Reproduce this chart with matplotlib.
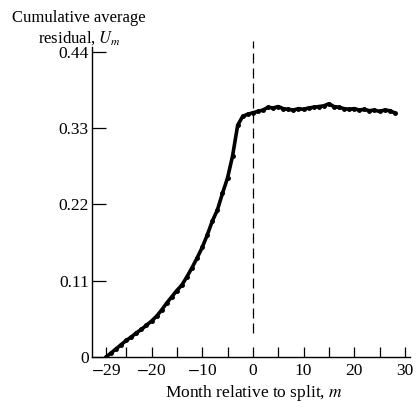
import numpy as np
import matplotlib
matplotlib.use("Agg")
import matplotlib.pyplot as plt

plt.rcParams['font.family'] = ['Liberation Serif', 'DejaVu Serif']
plt.rcParams['mathtext.fontset'] = 'stix'

# months relative to split and cumulative average residual
months = np.arange(-29, 29)
residual = [
    0.000, 0.006, 0.012, 0.018, 0.024, 0.029, 0.035, 0.040, 0.046, 0.052,
    0.059, 0.068, 0.078, 0.087, 0.096, 0.104, 0.116, 0.129, 0.143, 0.158,
    0.176, 0.196, 0.212, 0.236, 0.258, 0.290, 0.334, 0.347, 0.350, 0.352,
    0.354, 0.356, 0.360, 0.359, 0.361, 0.358, 0.357, 0.356, 0.358, 0.357,
    0.359, 0.360, 0.361, 0.362, 0.365, 0.361, 0.360, 0.358, 0.357, 0.358,
    0.356, 0.357, 0.355, 0.356, 0.354, 0.356, 0.355, 0.352,
]

x_ticks = [-29, -25, -20, -15, -10, -5, 0, 5, 10, 15, 20, 25, 30]
x_labels = ['$-$29', '', '$-$20', '', '$-$10', '', '0', '', '10', '', '20', '', '30']
y_ticks = [0, 0.11, 0.22, 0.33, 0.44]
y_labels = ['0', '0.11', '0.22', '0.33', '0.44']

fig = plt.figure(figsize=(4.17, 4.11), dpi=100)
ax = fig.add_axes([0.22, 0.131, 0.763, 0.755])

ax.plot(months, residual, color='black', lw=2.6, solid_capstyle='round')
ax.plot(months, residual, 'o', color='black', ms=2.5)

# event month
ax.plot([0, 0], [0.035, 0.455], color='black', lw=0.9, ls=(0, (8, 4)), clip_on=False)

ax.set_xlim(-31.8, 31.0)
ax.set_ylim(0, 0.447)
ax.set_xticks(x_ticks)
ax.set_xticklabels(x_labels, fontsize=12.5)
ax.set_yticks(y_ticks)
ax.set_yticklabels(y_labels, fontsize=12.5)
ax.tick_params(axis='x', direction='in', length=7, width=0.9, pad=4)
ax.tick_params(axis='y', direction='in', length=10, width=0.9, pad=2)

for side in ['top', 'right']:
    ax.spines[side].set_visible(False)
for side in ['left', 'bottom']:
    ax.spines[side].set_linewidth(1.0)

fig.text(0.19, 0.947, 'Cumulative average', ha='center', va='baseline', fontsize=12)
fig.text(0.19, 0.897, 'residual, $U_m$', ha='center', va='baseline', fontsize=12)
fig.text(0.61, 0.035, 'Month relative to split, $m$', ha='center', va='baseline', fontsize=12.5)

fig.savefig('out.png', dpi=100)
